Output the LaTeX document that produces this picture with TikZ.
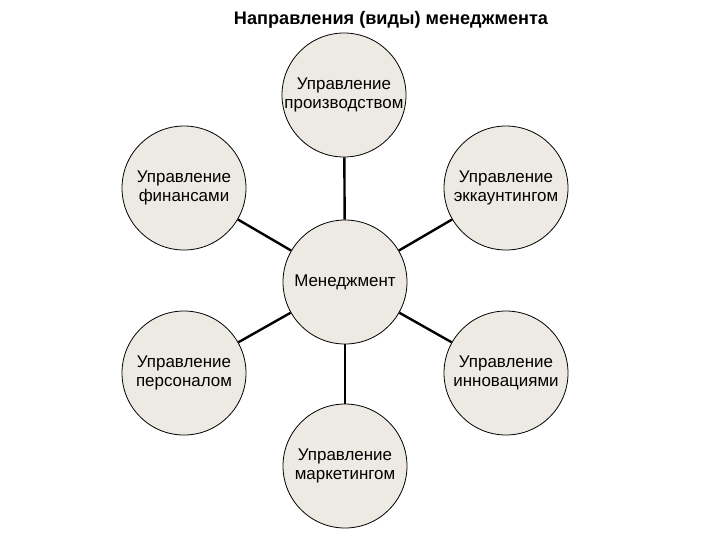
\documentclass[tikz,border=0pt]{standalone}
\usepackage{fontspec}
\setmainfont{Liberation Sans}
\usepackage{tikz}
\definecolor{circfill}{RGB}{236,234,226}

\begin{document}
\begin{tikzpicture}[x=0.75pt,y=0.75pt,yscale=-1,xscale=1,
  krug/.style={circle,draw=black,line width=0.6pt,fill=circfill,minimum size=93pt,inner sep=0pt,
    align=center,font=\fontsize{12.7}{14.6}\selectfont},
  svyaz/.style={line width=1.8pt}]
\useasboundingbox (0,0) rectangle (720,540);

% Text Node
\node (title) at (391,20) {\fontsize{13.6}{15}\selectfont\bfseries Направления (виды) менеджмента};

%Shape: Circle
\node[krug] (mgmt) at (345,282) {Менеджмент};
%Shape: Circle
\node[krug] (proizv) at (344,95) {Управление\\производством};
%Shape: Circle
\node[krug] (fin) at (184,188) {Управление\\финансами};
%Shape: Circle
\node[krug] (akk) at (506,188) {Управление\\эккаунтингом};
%Shape: Circle
\node[krug] (pers) at (184,373) {Управление\\персоналом};
%Shape: Circle
\node[krug] (innov) at (506,373) {Управление\\инновациями};
%Shape: Circle
\node[krug] (mark) at (345,466) {Управление\\маркетингом};

%Straight Lines
\draw[svyaz] (mgmt) -- (proizv);
\draw[svyaz] (mgmt) -- (fin);
\draw[svyaz] (mgmt) -- (akk);
\draw[svyaz] (mgmt) -- (pers);
\draw[svyaz] (mgmt) -- (innov);
\draw[svyaz] (mgmt) -- (mark);

\end{tikzpicture}
\end{document}
